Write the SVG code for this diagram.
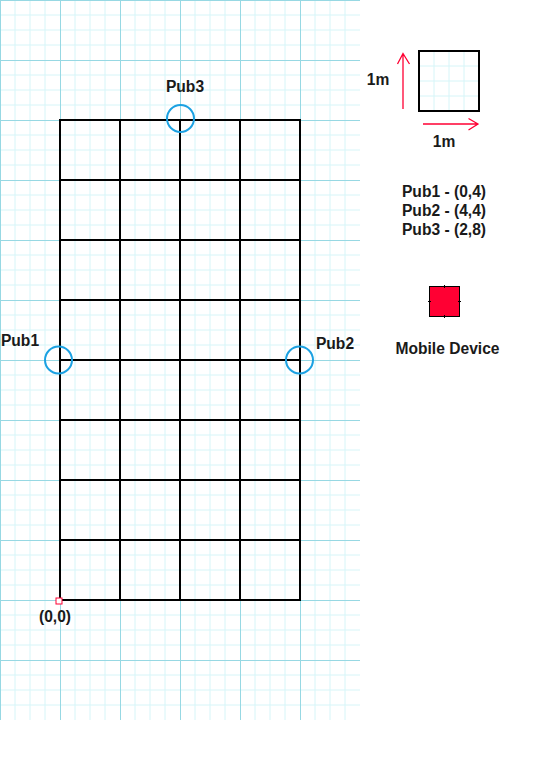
<svg xmlns="http://www.w3.org/2000/svg" width="552" height="764" viewBox="0 0 552 764">
<defs>
<style>
text{font-family:"Liberation Sans",Arial,sans-serif;font-weight:bold;font-size:15.6px;fill:#1a1a1a;text-anchor:middle}
.minor{stroke:#d6f5f8;stroke-width:1;fill:none}
.major{stroke:#97d8e3;stroke-width:1;fill:none}
.blk{stroke:#000;stroke-width:2;fill:none}
.pub{stroke:#1ba1e2;stroke-width:2;fill:none}
.red{stroke:#ff0033;stroke-width:1.3;fill:none}
</style>
<pattern id="grid" width="60" height="60" patternUnits="userSpaceOnUse">
<path class="minor" d="M15 0V60M30 0V60M45 0V60M0 15H60M0 30H60M0 45H60"/>
<path class="major" d="M0.5 0V60M0 0.5H60"/>
</pattern>
</defs>
<rect width="552" height="764" fill="#fff"/>
<rect id="background-grid" x="0" y="0" width="360" height="720" fill="url(#grid)"/>
<g id="floor-grid">
<rect class="blk" x="60" y="120" width="240" height="480"/>
<path class="blk" d="M120 120V600M180 120V600M240 120V600M60 180H300M60 240H300M60 300H300M60 360H300M60 420H300M60 480H300M60 540H300"/>
</g>
<g id="origin">
<rect x="56" y="598" width="6" height="6" fill="#fff" stroke="#ff0033" stroke-width="1"/>
<text x="55" y="622">(0,0)</text>
</g>
<g id="pub1">
<circle class="pub" cx="58.5" cy="360" r="13.5"/>
<text x="20" y="346">Pub1</text>
</g>
<g id="pub2">
<circle class="pub" cx="299.5" cy="360" r="13.5"/>
<text x="335" y="349">Pub2</text>
</g>
<g id="pub3">
<circle class="pub" cx="180.5" cy="118.5" r="13.5"/>
<text x="185" y="92">Pub3</text>
</g>
<g id="scale">
<path class="minor" d="M434 51V111M449 51V111M464 51V111M419 66H479M419 81H479M419 96H479"/>
<rect class="blk" x="419" y="51" width="60" height="60"/>
<path class="red" d="M403 109V53.5M397.5 64L403 53.5L409.5 64M423 124H478M468.5 118.5L478 124L468.5 130"/>
<text x="378" y="85">1m</text>
<text x="444" y="147">1m</text>
</g>
<g id="legend">
<text x="444" y="197">Pub1 - (0,4)</text>
<text x="444" y="216">Pub2 - (4,4)</text>
<text x="444" y="235">Pub3 - (2,8)</text>
</g>
<g id="mobile-device">
<rect x="429.5" y="286.5" width="30" height="30" fill="#ff0033" stroke="#000" stroke-width="1"/>
<path stroke="#000" stroke-width="1" d="M444.5 285V288M444.5 315V318M428 301.5H431M458 301.5H461"/>
<text x="447.5" y="354">Mobile Device</text>
</g>
<g id="connectors"></g>
</svg>
